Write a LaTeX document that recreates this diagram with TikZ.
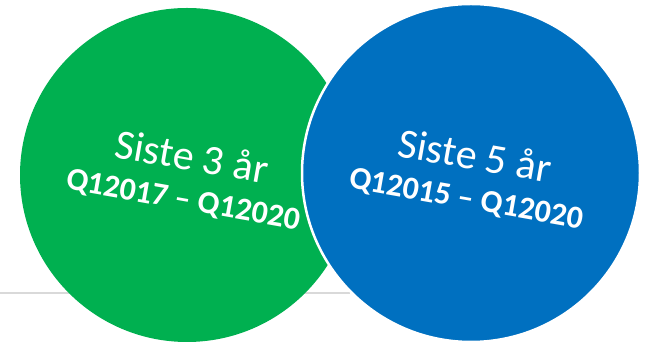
\documentclass[tikz,border=0pt]{standalone}
\usepackage{fontspec}
\setmainfont{Carlito}
\usepackage{tikz}
\definecolor{periodgreen}{RGB}{0,176,80}
\definecolor{periodblue}{RGB}{0,112,192}
\definecolor{rulegray}{RGB}{217,217,217}

\begin{document}
\begin{tikzpicture}[x=1pt,y=1pt,
  title/.style={text=white,rotate=-10,font=\fontsize{42}{44}\selectfont},
  span/.style={text=white,rotate=-10,font=\fontsize{32}{34}\selectfont\bfseries}]
\useasboundingbox (0,0) rectangle (654,344);
\draw[rulegray, line width=2pt] (0,51) -- (350,51);
\fill[periodgreen] (187,169) circle (167);
\filldraw[periodblue, draw=white, line width=2.5pt] (471,171) circle (169);
% labels
\node[title] (threeyr) at (192,188) {Siste 3 år};
\node[span] (threespan) at (183,143) {Q12017 – Q12020};
\node[title] (fiveyr) at (475,189) {Siste 5 år};
\node[span] (fivespan) at (466,144) {Q12015 – Q12020};
\end{tikzpicture}
\end{document}
